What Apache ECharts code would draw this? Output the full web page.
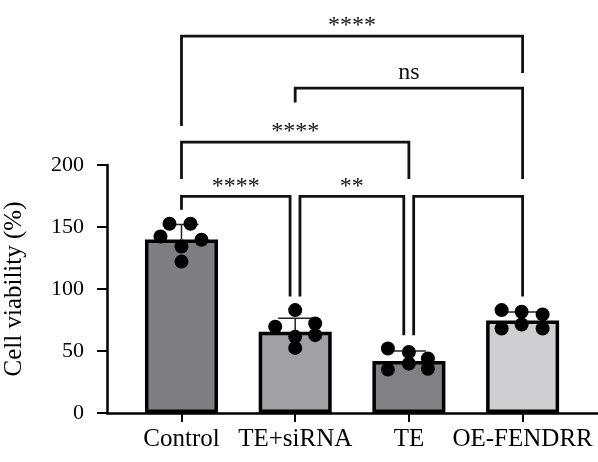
<!DOCTYPE html>
<html>
<head>
<meta charset="utf-8">
<script src="https://cdn.jsdelivr.net/npm/echarts@6/dist/echarts.min.js"></script>
<style>
    html, body { margin: 0; padding: 0; background: #fff; }
    #chart { width: 598px; height: 462px; }
</style>
</head>
<body>
<div id="chart"></div>
<script>
// groups and values
var groups = ['Control', 'TE+siRNA', 'TE', 'OE-FENDRR'];
var means = [140, 65.5, 42, 74.5];
var sds = [12, 11, 8, 7];
var yTicks = [0, 50, 100, 150, 200];

// individual points, one list per group
var dotsControl = [152.6, 152.6, 142.3, 139.7, 134.3, 122.1];
var dotsSiRNA = [83, 69.5, 72.2, 62.8, 61.4, 52.5];
var dotsTE = [52, 49.2, 43.9, 39.8, 35, 35.7];
var dotsOE = [83, 81.6, 79.5, 68.2, 71.4, 68.2];

// comparisons: [from group, to group, label]
var pairs = [[0, 3], [1, 3], [0, 2], [0, 1], [1, 2], [2, 3]];
var pairLabels = ['****', 'ns', '****', '****', '**', ''];
// bracket height and leg ends, in y units
var pairTop = [304, 262, 218.5, 174.7, 174.7, 174.7];
var pairLegs = [[231.4, 274.1], [250.4, 188.8], [188.8, 188.8], [163.9, 93.9], [93.9, 62.8], [62.8, 93.9]];

var FONT = 'Liberation Serif';

/**
 * 散点横向错开 (px / band)
 */
var band = 113.7;
var jitter = [
    [-12, 9, -21, 20, 0, 0],
    [0, -20, 20, 20, 0, 0],
    [-21, 0, 19, 0, -21, 19],
    [-21, -1, 20, -21, -1, 20]
];
var allDots = [dotsControl, dotsSiRNA, dotsTE, dotsOE];
var dotData = [];
for (var g = 0; g < allDots.length; g++) {
    for (var k = 0; k < allDots[g].length; k++) {
        dotData.push([g + jitter[g][k] / band, allDots[g][k]]);
    }
}

var barColors = ['#7f7f83', '#a0a0a5', '#818185', '#cfcfd2'];
var barData = [];
var errData = [];
for (var i = 0; i < groups.length; i++) {
    barData.push({value: [i, means[i]], itemStyle: {color: barColors[i]}});
    errData.push([i, means[i], means[i] + sds[i]]);
}

// where legs meet near a shared group, shift a little
var bracketData = [];
for (var p = 0; p < pairs.length; p++) {
    var a = pairs[p][0], b = pairs[p][1];
    var x1 = a, x2 = b;
    if (p >= 3) {
        if (a > 0) x1 = a + 0.042;
        if (b < 3) x2 = b - 0.045;
    }
    bracketData.push([x1, x2, pairTop[p], pairLegs[p][0], pairLegs[p][1], p]);
}

var myChart = echarts.init(document.getElementById('chart'));
myChart.setOption({
    animation: false,
    backgroundColor: '#fff',
    grid: {left: 107, right: 0, top: 165, bottom: 49, containLabel: false, outerBoundsMode: 'none'},
    xAxis: {
        type: 'value',
        min: -0.655,
        max: 3.663,
        splitLine: {show: false},
        axisLine: {show: true, onZero: false, lineStyle: {color: '#000', width: 2.5}},
        axisTick: {show: true, customValues: [0, 1, 2, 3], length: 9, lineStyle: {color: '#000', width: 2}},
        axisLabel: {
            customValues: [0, 1, 2, 3],
            formatter: function (v) { return groups[Math.round(v)]; },
            margin: 14,
            color: '#000',
            fontFamily: FONT,
            fontSize: 25
        }
    },
    yAxis: {
        type: 'value',
        min: 0,
        max: 200,
        interval: 50,
        name: 'Cell viability (%)',
        nameLocation: 'middle',
        nameRotate: 90,
        nameGap: 80,
        nameTextStyle: {color: '#000', fontFamily: FONT, fontSize: 25},
        splitLine: {show: false},
        axisLine: {show: true, onZero: false, lineStyle: {color: '#000', width: 2.5}},
        axisTick: {show: true, length: 10, lineStyle: {color: '#000', width: 2}},
        axisLabel: {margin: 23, color: '#000', fontFamily: FONT, fontSize: 22}
    },
    series: [
        {
            type: 'bar',
            data: barData,
            barWidth: 73,
            itemStyle: {borderColor: '#000', borderWidth: 3.5},
            z: 2
        },
        {
            type: 'custom',
            data: errData,
            encode: {x: 0, y: [1, 2]},
            z: 3,
            renderItem: function (params, api) {
                var base = api.coord([api.value(0), api.value(1)]);
                var top = api.coord([api.value(0), api.value(2)]);
                var half = 17;
                return {
                    type: 'group',
                    children: [
                        {type: 'line', shape: {x1: base[0], y1: base[1], x2: top[0], y2: top[1]},
                            style: {stroke: '#222', lineWidth: 1.5}},
                        {type: 'line', shape: {x1: top[0] - half, y1: top[1], x2: top[0] + half, y2: top[1]},
                            style: {stroke: '#222', lineWidth: 1.5}}
                    ]
                };
            }
        },
        {
            type: 'scatter',
            data: dotData,
            symbolSize: 14,
            itemStyle: {color: '#000', opacity: 1},
            z: 4
        },
        {
            type: 'custom',
            data: bracketData,
            encode: {x: [0, 1], y: [2, 3, 4]},
            clip: false,
            z: 5,
            renderItem: function (params, api) {
                var l = api.coord([api.value(0), api.value(2)]);
                var r = api.coord([api.value(1), api.value(2)]);
                var lb = api.coord([api.value(0), api.value(3)]);
                var rb = api.coord([api.value(1), api.value(4)]);
                var lab = pairLabels[api.value(5)];
                var ly = lab === 'ns' ? l[1] - 15 : l[1] - 10;
                return {
                    type: 'group',
                    children: [
                        {type: 'polyline', shape: {points: [[lb[0], lb[1]], [l[0], l[1]], [r[0], r[1]], [rb[0], rb[1]]]},
                            style: {stroke: '#111', lineWidth: 2.8, fill: 'none'}},
                        {type: 'text', x: (l[0] + r[0]) / 2, y: ly,
                            style: {text: lab, fill: '#111', font: '24px "Liberation Serif"', align: 'center', verticalAlign: 'middle'}}
                    ]
                };
            }
        }
    ]
});
</script>
</body>
</html>
